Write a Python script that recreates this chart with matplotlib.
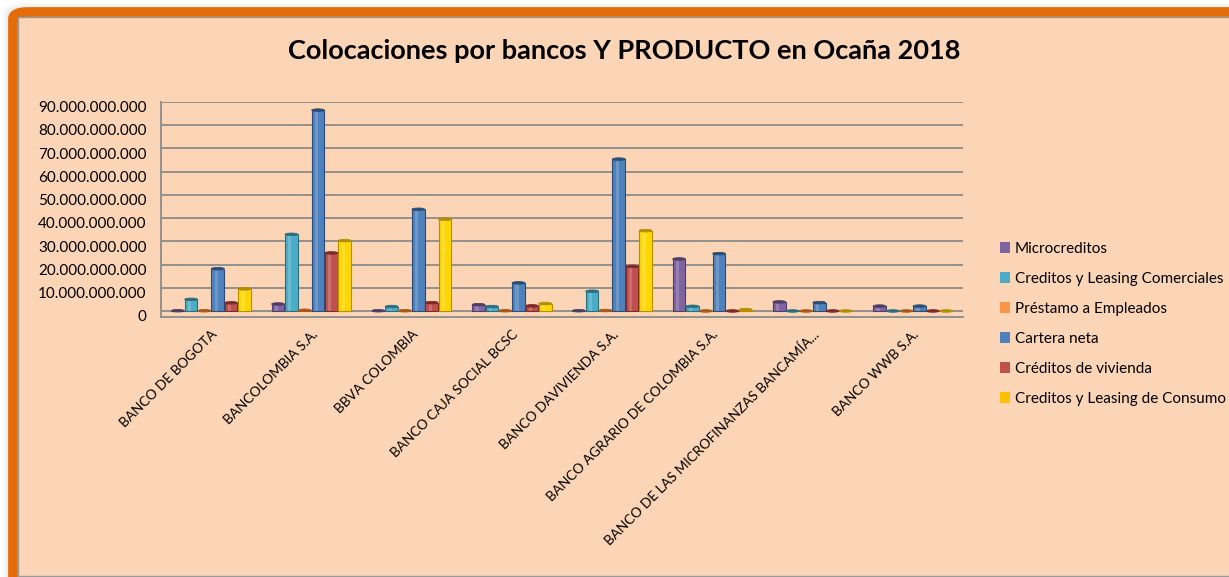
import numpy as np
import matplotlib.pyplot as plt
from matplotlib.patches import Ellipse, FancyBboxPatch, Patch

bancos = ["BANCO DE BOGOTA", "BANCOLOMBIA S.A.", "BBVA COLOMBIA",
          "BANCO CAJA SOCIAL BCSC", "BANCO DAVIVIENDA S.A.",
          "BANCO AGRARIO DE COLOMBIA S.A.",
          "BANCO DE LAS MICROFINANZAS BANCAMÍA...", "BANCO WWB S.A."]

productos = ["Microcreditos", "Creditos y Leasing Comerciales",
             "Préstamo a Empleados", "Cartera neta", "Créditos de vivienda",
             "Creditos y Leasing de Consumo"]

# valores (pesos)
microcreditos = [0.1e9, 3.0e9, 0.1e9, 2.7e9, 0.1e9, 22.4e9, 3.9e9, 2.1e9]
comerciales = [5.0e9, 33.0e9, 1.9e9, 1.9e9, 8.5e9, 2.0e9, 0.0, 0.0]
empleados = [0.1e9, 0.3e9, 0.1e9, 0.1e9, 0.2e9, 0.0, 0.0, 0.0]
cartera_neta = [18.2e9, 86.5e9, 43.8e9, 12.1e9, 65.4e9, 24.7e9, 3.6e9, 2.1e9]
vivienda = [3.5e9, 25.0e9, 3.6e9, 2.2e9, 19.2e9, 0.0, 0.0, 0.0]
consumo = [9.5e9, 30.3e9, 39.5e9, 3.2e9, 34.6e9, 0.6e9, 0.0, 0.0]

series = [microcreditos, comerciales, empleados, cartera_neta, vivienda, consumo]
colores = ["#8064A2", "#4BACC6", "#F79646", "#4F81BD", "#C0504D", "#FFD700"]
bordes = ["#4F3D66", "#2C6E80", "#A85A1E", "#2C4D75", "#7A2C2A", "#B38F00"]
leyenda_col = ["#8064A2", "#4BACC6", "#F79646", "#4F81BD", "#C0504D", "#FFC000"]

fondo = "#FBD5B5"
fs = 11

fig = plt.figure(figsize=(12.29, 5.77), dpi=100)
fig.patch.set_facecolor("white")
plt.rcParams["font.family"] = ["Lato", "DejaVu Sans"]

# sombra suave + marco naranja redondeado
for k, a in [(6, 0.05), (4, 0.07), (2, 0.1)]:
    fig.patches.append(FancyBboxPatch(((13 - k) / 1229, -0.1), 1.3, 1.1 - (13 - k) / 577,
                                      boxstyle="round,pad=0,rounding_size=0.012",
                                      transform=fig.transFigure, facecolor="none",
                                      edgecolor="#B0B0B0", alpha=a, linewidth=7, zorder=0))
fig.patches.append(FancyBboxPatch((13 / 1229, -0.1), 1.3, 1.1 - 12 / 577,
                                  boxstyle="round,pad=0,rounding_size=0.012",
                                  transform=fig.transFigure, facecolor=fondo,
                                  edgecolor="#E36C09", linewidth=7, zorder=0.2))
fig.patches.append(FancyBboxPatch((18 / 1229, 1 / 577), 1.2, 1 - 17 / 577 - 1 / 577,
                                  boxstyle="square,pad=0", transform=fig.transFigure,
                                  facecolor=fondo, edgecolor="#9A9A9A", linewidth=1,
                                  zorder=0.5))

ax = fig.add_axes([161 / 1229, 260 / 577, (963 - 161) / 1229, (475 - 260) / 577])
ax.set_facecolor("none")
ax.set_zorder(2)

n = len(bancos)
x = np.arange(n)
w = 0.127
paso = 0.133
cap_h = 1.1e9

for i, (vals, c, b) in enumerate(zip(series, colores, bordes)):
    xs = x + (i - 2.5) * paso
    ax.bar(xs, vals, width=w, color=c, edgecolor=b, linewidth=0.8, zorder=3)
    # brillo de cilindro
    ax.bar(xs - w * 0.12, vals, width=w * 0.25, color="white", alpha=0.18,
           linewidth=0, zorder=3.5)
    for xi, v in zip(xs, vals):
        ax.add_patch(Ellipse((xi, v), w, cap_h, facecolor=b, edgecolor=b,
                             linewidth=0.6, zorder=4))

ax.set_xlim(-0.5, n - 0.5)
ax.set_ylim(-2.6e9, 90e9)
yt = np.arange(0, 90e9 + 1, 10e9)
ax.set_yticks(yt)
ax.set_yticklabels([])
# etiquetas del eje y algo desplazadas hacia abajo (efecto 3D de Excel)
for v in yt:
    ax.annotate("{:,.0f}".format(v).replace(",", "."), xy=(0, v),
                xycoords=("axes fraction", "data"), xytext=(-10.5, -4.5),
                textcoords="offset points", ha="right", va="center",
                fontsize=fs, color="#000000", annotation_clip=False)
ax.tick_params(axis="y", length=0)
ax.grid(axis="y", color="#8C8C8C", linewidth=1.3, zorder=1)
ax.set_xticks(x)
ax.set_xticklabels(bancos, rotation=45, ha="right", va="top",
                   rotation_mode="anchor", fontsize=9.8)
ax.tick_params(axis="x", length=0, pad=8)
for s in ["top", "right"]:
    ax.spines[s].set_visible(False)
ax.spines["left"].set_color("#8C8C8C")
ax.spines["bottom"].set_color("#8C8C8C")
ax.spines["left"].set_linewidth(1.3)
ax.spines["bottom"].set_linewidth(1.3)

fig.text(624 / 1229, 1 - 51 / 577, "Colocaciones por bancos Y PRODUCTO en Ocaña 2018",
         ha="center", va="center", fontsize=19.5, fontweight="bold", zorder=3)

handles = [Patch(facecolor=c, edgecolor="none") for c in leyenda_col]
leg = fig.legend(handles, productos, loc="upper left",
                 bbox_to_anchor=(986 / 1229, 1 - 228 / 577), frameon=False,
                 fontsize=fs, handlelength=0.7, handleheight=0.7,
                 handletextpad=0.3, labelspacing=1.05)
leg.set_zorder(3)

fig.savefig("out.png", dpi=100, facecolor=fig.get_facecolor())
